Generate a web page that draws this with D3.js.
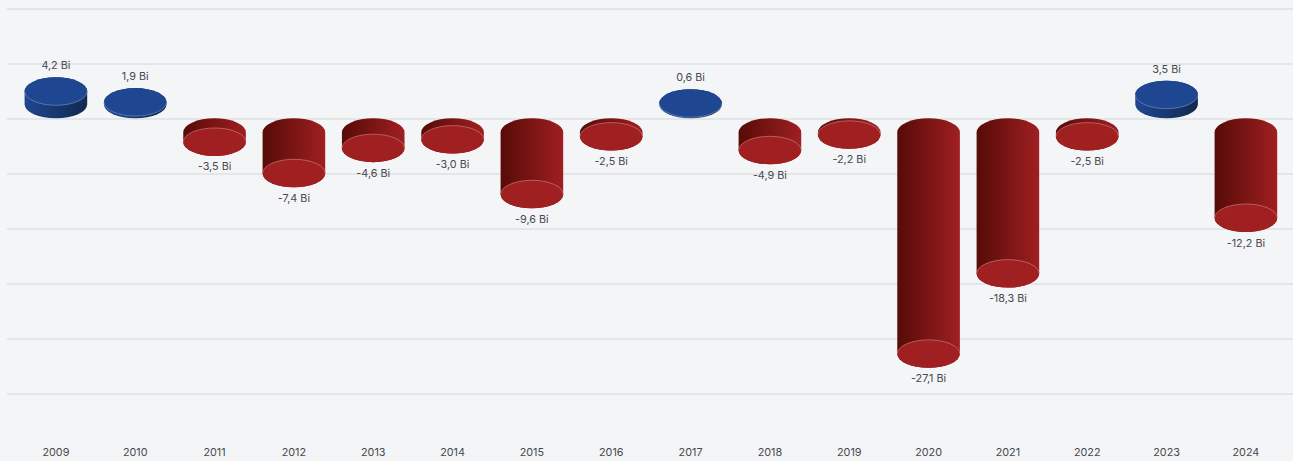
<!DOCTYPE html>
<html>
<head>
<meta charset="utf-8">
<script src="https://cdn.jsdelivr.net/npm/d3@7/dist/d3.min.js"></script>
<style>
  html, body { margin: 0; padding: 0; background: #f4f5f7; overflow: hidden; }
  svg { display: block; }
  text { font-family: Inter, "Open Sans", sans-serif; font-size: 10.8px; fill: #47494e; }
</style>
</head>
<body>
<svg id="chart" width="1293" height="461"></svg>
<script>
// Annual result in billions
const years = [2009, 2010, 2011, 2012, 2013, 2014, 2015, 2016, 2017, 2018, 2019, 2020, 2021, 2022, 2023, 2024];
const values = [4.2, 1.9, -3.5, -7.4, -4.6, -3.0, -9.6, -2.5, 0.6, -4.9, -2.2, -27.1, -18.3, -2.5, 3.5, -12.2];
const gridTicks = [12, 6, 0, -6, -12, -18, -24, -30];

const width = 1293, height = 461;
const svg = d3.select("#chart");

const x = d3.scalePoint().domain(years).range([55.9, 1245.9]);
const y = d3.scaleLinear().domain([12, -30]).range([9, 394]);

// A cylinder always keeps room for its cap, so short bars stretch past the value scale
const cylinderExtent = d3.scaleLinear()
  .domain([0, 2.2, 3, 4.2, 4.9, 7.4, 9.6, 30])
  .range([28.5, 30.5, 35.3, 41, 46, 69, 90, 276]);

const rx = 31.3, ry = 14;

const decimalComma = d3.formatLocale({ decimal: ",", thousands: ".", grouping: [3], currency: ["", ""], minus: "-" });
const formatValue = d => decimalComma.format(".1f")(d) + " Bi";

// Side shading of the cylinders
const defs = svg.append("defs");
const gradients = [
  { id: "side-neg", from: "#560b07", to: "#a01f21" },
  { id: "side-pos", from: "#1f4690", to: "#11294f" }
];
gradients.forEach(g => {
  const lg = defs.append("linearGradient").attr("id", g.id);
  lg.append("stop").attr("offset", "0%").attr("stop-color", g.from);
  lg.append("stop").attr("offset", "100%").attr("stop-color", g.to);
});

// Horizontal grid
const gridAxis = d3.axisRight(y).tickValues(gridTicks).tickSize(width - 7).tickFormat("").offset(0);
svg.append("g").attr("transform", "translate(7,0)").call(gridAxis)
  .call(g => g.select(".domain").remove())
  .call(g => g.selectAll(".tick line").attr("stroke", "#e3e5e9").attr("stroke-width", 2));

// Year labels
const yearAxis = d3.axisBottom(x).tickSize(0).tickPadding(0).tickFormat(d3.format("d")).offset(0);
svg.append("g").attr("transform", "translate(0,448)").call(yearAxis)
  .call(g => g.select(".domain").remove())
  .call(g => g.selectAll("text").attr("font-family", null).attr("font-size", null).attr("fill", null));

const data = years.map((year, i) => ({ year, value: values[i] }));
const base = y(0) - 0.7;
const extent = d => cylinderExtent(Math.abs(d.value));
const faceY = d => d.value < 0 ? base + extent(d) - ry : base - extent(d) + ry;

const bars = svg.append("g").selectAll("g").data(data).join("g")
  .attr("transform", d => `translate(${x(d.year)},0)`);

// Outline of the shaded side: two half ellipses joined by straight walls
bars.append("path")
  .attr("fill", d => d.value < 0 ? "url(#side-neg)" : "url(#side-pos)")
  .attr("d", d => {
    const h = extent(d);
    const top = d.value < 0 ? base : base - h;
    const bottom = d.value < 0 ? base + h : base;
    return `M${-rx},${top + ry} A${rx},${ry} 0 0 1 ${rx},${top + ry}` +
           `L${rx},${bottom - ry} A${rx},${ry} 0 0 1 ${-rx},${bottom - ry}Z`;
  });

// Flat visible end of each cylinder
bars.append("ellipse")
  .attr("rx", rx)
  .attr("ry", ry)
  .attr("cy", faceY)
  .attr("fill", d => d.value < 0 ? "#a01f21" : "#1f4690");

// Thin highlight where the flat end meets the side
bars.append("path")
  .attr("fill", "none")
  .attr("stroke", d => d.value < 0 ? "#d08a88" : "#7f9ac8")
  .attr("stroke-width", 0.6)
  .attr("d", d => {
    const sweep = d.value < 0 ? 1 : 0;
    return `M${-rx},${faceY(d)} A${rx},${ry} 0 0 ${sweep} ${rx},${faceY(d)}`;
  });

// Value labels
bars.append("text")
  .attr("text-anchor", "middle")
  .attr("dominant-baseline", "central")
  .attr("y", d => d.value < 0 ? base + extent(d) + 11 : base - extent(d) - 11.5)
  .text(d => formatValue(d.value));
</script>
</body>
</html>
